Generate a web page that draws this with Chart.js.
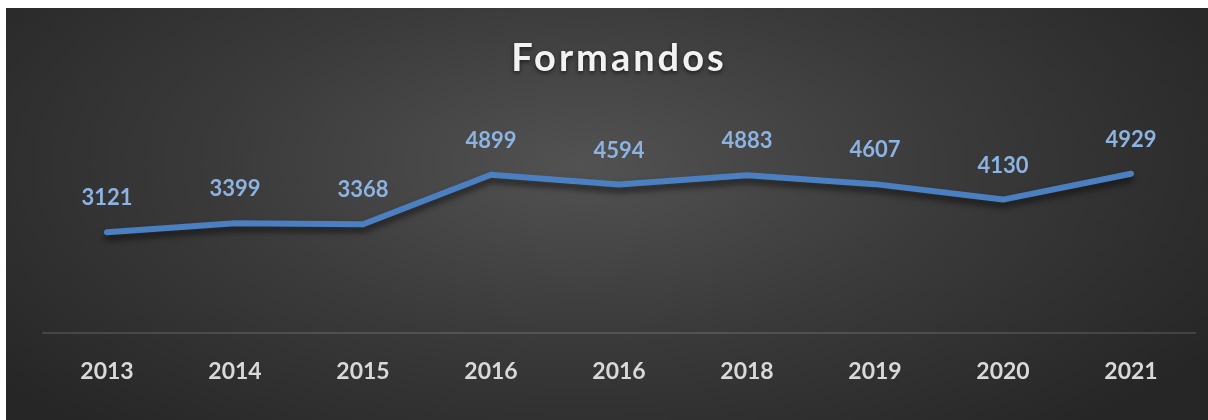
<!DOCTYPE html>
<html>
<head>
<meta charset="utf-8">
<script src="https://cdn.jsdelivr.net/npm/chart.js@4"></script>
<style>
  html, body { margin: 0; padding: 0; background: #fff; }
  #wrap {
    position: absolute; left: 6px; top: 8px; width: 1202px; height: 412px;
    background: radial-gradient(ellipse 62% 85% at 48% 38%, #525252 0%, #3a3a3a 50%, #262626 100%);
  }
</style>
</head>
<body>
<div id="wrap"><canvas id="formandosChart" width="1202" height="412"></canvas></div>
<script>
const anos = ['2013', '2014', '2015', '2016', '2016', '2018', '2019', '2020', '2021'];
const formandos = [3121, 3399, 3368, 4899, 4594, 4883, 4607, 4130, 4929];
const titulo = 'Formandos';

// sombra da linha
const sombraLinha = {
    id: 'sombraLinha',
    beforeDatasetsDraw(chart) {
        const ctx = chart.ctx;
        ctx.save();
        ctx.shadowColor = 'rgba(0,0,0,0.55)';
        ctx.shadowBlur = 6;
        ctx.shadowOffsetY = 5;
    },
    afterDatasetsDraw(chart) {
        chart.ctx.restore();
    }
};

// rótulos e título
const rotulos = {
    id: 'rotulos',
    afterDraw(chart) {
        const ctx = chart.ctx;
        const meta = chart.getDatasetMeta(0);
        ctx.save();
        ctx.font = 'bold 22px Lato';
        ctx.fillStyle = '#8db3e2';
        ctx.textAlign = 'center';
        ctx.textBaseline = 'middle';
        meta.data.forEach((pt, i) => {
            ctx.fillText(String(formandos[i]), pt.x, pt.y - 34);
        });
        ctx.font = 'bold 38px Lato';
        ctx.letterSpacing = '3px';
        ctx.fillStyle = '#f2f2f2';
        ctx.shadowColor = 'rgba(0,0,0,0.6)';
        ctx.shadowBlur = 4;
        ctx.shadowOffsetY = 2;
        ctx.fillText(titulo, chart.width / 2 + 12, 51);
        ctx.restore();
    }
};

new Chart(document.getElementById('formandosChart').getContext('2d'), {
    type: 'line',
    data: {
        labels: anos,
        datasets: [{
            label: 'Formandos',
            data: formandos,
            borderColor: '#4a7fc1',
            borderWidth: 6,
            borderCapStyle: 'round',
            borderJoinStyle: 'round',
            pointRadius: 0,
            tension: 0,
            fill: false
        }]
    },
    options: {
        responsive: false,
        animation: false,
        layout: { padding: { left: 37, right: 13, top: 131, bottom: 11 } },
        plugins: { legend: { display: false }, title: { display: false }, tooltip: { enabled: false } },
        scales: {
            x: {
                offset: true,
                grid: { display: false, drawTicks: false },
                border: { display: true, color: 'rgba(255,255,255,0.13)', width: 2 },
                ticks: { color: '#d9d9d9', font: { family: 'Lato', size: 23, weight: 'bold' }, padding: 24, maxRotation: 0 }
            },
            y: {
                display: false,
                min: 0,
                max: 6000
            }
        }
    },
    plugins: [sombraLinha, rotulos]
});
</script>
</body>
</html>
